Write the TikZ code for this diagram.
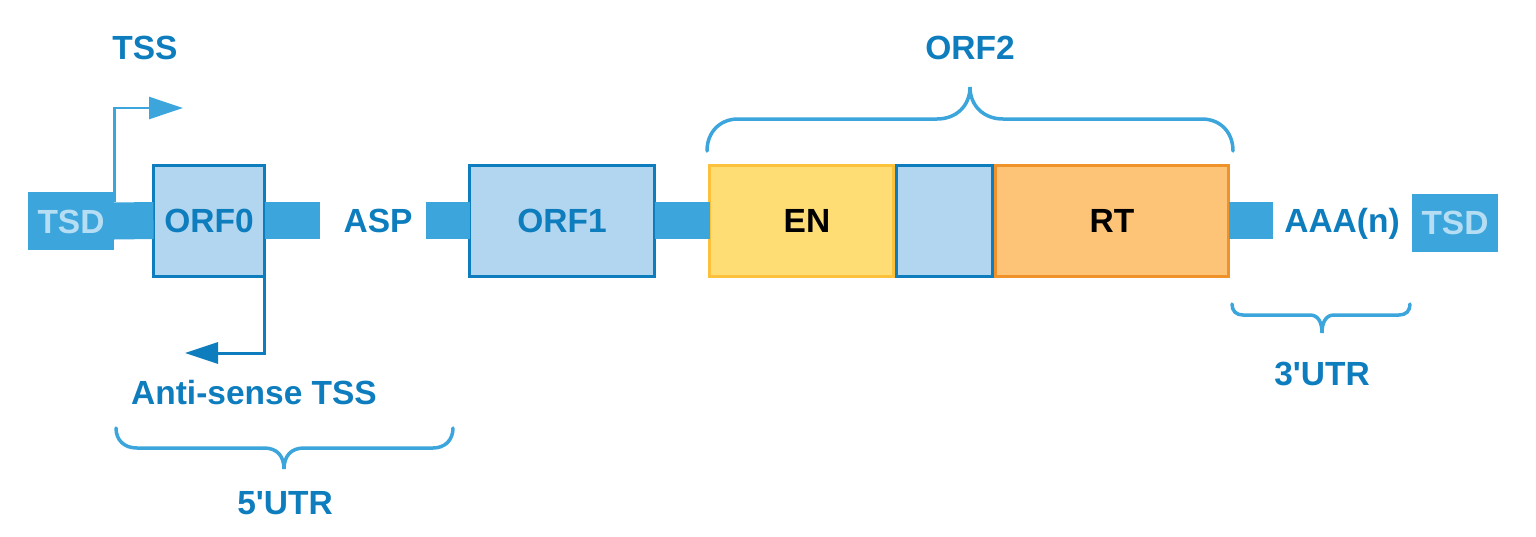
\documentclass[tikz,border=0pt]{standalone}
\usepackage{fontspec}
\setmainfont{Liberation Sans}
\usetikzlibrary{arrows.meta}
\definecolor{barblue}{HTML}{3CA5DC}
\definecolor{darkblue}{HTML}{0E7DBE}
\definecolor{boxblue}{HTML}{B2D6EF}
\definecolor{tsdtext}{HTML}{B5DDF3}
\definecolor{enfill}{HTML}{FEDD74}
\definecolor{enline}{HTML}{FBC13B}
\definecolor{rtfill}{HTML}{FDC376}
\definecolor{rtline}{HTML}{F0922A}
\newcommand{\bigfont}{\fontsize{33.5}{40}\selectfont\bfseries}
\tikzset{
  lbl/.style={font=\bigfont, text=darkblue, inner sep=0pt, text height=24pt, text depth=0pt},
  tsdbox/.style={rectangle, fill=barblue, minimum width=86pt, minimum height=58pt, inner sep=0pt, outer sep=0pt,
    font=\bigfont, text=tsdtext, text height=24pt, text depth=0pt},
  orfbox/.style={rectangle, draw=darkblue, fill=boxblue, line width=3pt, inner sep=0pt, outer sep=0pt,
    minimum height=111pt, font=\bigfont, text=darkblue, text height=24pt, text depth=0pt},
  enbox/.style={rectangle, draw=enline, fill=enfill, line width=3pt, inner sep=0pt, outer sep=0pt,
    minimum height=111pt, font=\bigfont, text=black, text height=24pt, text depth=0pt},
  rtbox/.style={rectangle, draw=rtline, fill=rtfill, line width=3pt, inner sep=0pt, outer sep=0pt,
    minimum height=111pt, font=\bigfont, text=black, text height=24pt, text depth=0pt},
  bar/.style={draw=barblue, line width=37pt, line cap=butt},
  tssarrow/.style={draw=barblue, line width=2.5pt, -{Triangle[length=34pt,width=22pt]}},
  asarrow/.style={draw=darkblue, line width=3pt, -{Triangle[length=33pt,width=21pt]}},
  brace/.style={draw=barblue, line width=3.5pt, line cap=round}
}
\begin{document}
\begin{tikzpicture}[x=1pt,y=-1pt]
\useasboundingbox (0,0) rectangle (1536,536);
% nodes
\node[tsdbox] (tsdL) at (71,221) {TSD};
\node[orfbox, minimum width=111pt] (orf0) at (209,220.5) {ORF0};
\coordinate (aspend) at (320,220.5);
\node[lbl] (asp) at (378,220.5) {ASP};
\coordinate (aspstart) at (426,220.5);
\node[orfbox, minimum width=185pt] (orf1) at (562,220.5) {ORF1};
\node[enbox, minimum width=184pt] (en) at (801.5,220.5) {};
\node[lbl, text=black] (entext) at (807,220.5) {EN};
\node[rtbox, minimum width=233pt] (rt) at (1112,220.5) {RT};
\node[orfbox, minimum width=96pt] (mid) at (944.5,220.5) {};
\coordinate (polyend) at (1273,220.5);
\node[lbl] (aaa) at (1342,220.5) {AAA(n)};
\node[tsdbox] (tsdR) at (1455,222.5) {TSD};
% bars
\draw[bar] (tsdL.east) -- (orf0.west);
\draw[bar] (orf0.east) -- (aspend);
\draw[bar] (aspstart) -- (orf1.west);
\draw[bar] (orf1.east) -- (en.west);
\draw[bar] (rt.east) -- (polyend);
% TSS arrow
\coordinate (tssbase) at (114.5,202);
\coordinate (tssend) at (183,108);
\draw[tssarrow] (tssbase) |- (tssend);
\node[lbl] (tss) at (145,47) {TSS};
% anti-sense arrow
\coordinate (asend) at (185,353);
\draw[asarrow] (orf0.south east) |- (asend);
\node[lbl] (astss) at (254,392) {Anti-sense TSS};
% ORF2 brace
\draw[brace] (707,151) .. controls (707,132) and (720,119) .. (738,119) -- (937,119)
  .. controls (956,119) and (970,106) .. (970,87)
  .. controls (970,106) and (984,119) .. (1003,119) -- (1202,119)
  .. controls (1220,119) and (1233,132) .. (1233,151);
\node[lbl] (orf2) at (970,47) {ORF2};
% 5'UTR brace
\draw[brace] (116,428) .. controls (116,440) and (124,448) .. (137,448) -- (264,448)
  .. controls (277,448) and (284,456) .. (284,469)
  .. controls (284,456) and (291,448) .. (304,448) -- (433,448)
  .. controls (445,448) and (453,440) .. (453,428);
\node[lbl] (utr5) at (285,502) {5\textquotesingle UTR};
% 3'UTR brace
\draw[brace] (1232,304) .. controls (1232,311) and (1236,315) .. (1243,315) -- (1310,315)
  .. controls (1318,315) and (1322,322) .. (1322,333)
  .. controls (1322,322) and (1326,315) .. (1334,315) -- (1399,315)
  .. controls (1406,315) and (1410,311) .. (1410,304);
\node[lbl] (utr3) at (1322,373) {3\textquotesingle UTR};
\end{tikzpicture}
\end{document}
